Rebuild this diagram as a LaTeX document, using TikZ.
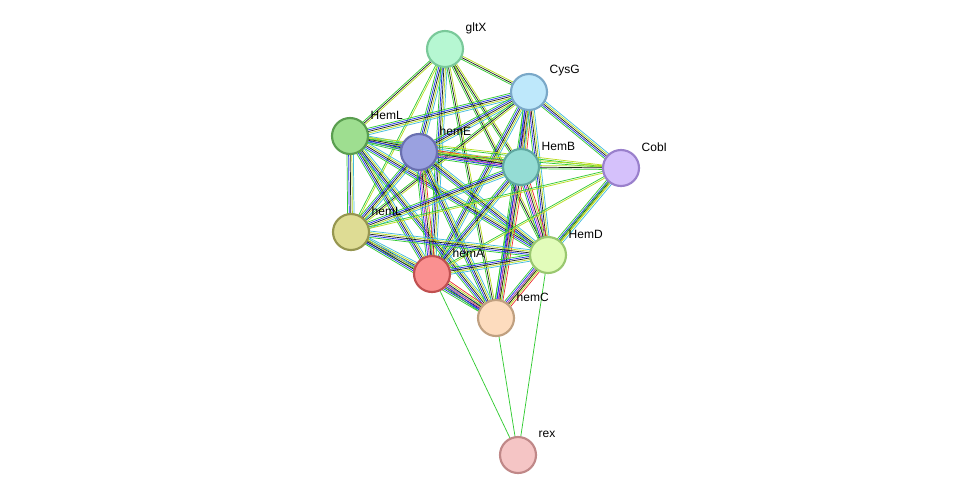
\documentclass[tikz,border=0pt]{standalone}
\usepackage{fontspec}
\setmainfont{Liberation Sans}
\usetikzlibrary{calc}
\definecolor{eg}{HTML}{33CC33}
\definecolor{eb}{HTML}{2233EE}
\definecolor{ek}{HTML}{222222}
\definecolor{ey}{HTML}{B8DC20}
\definecolor{ec}{HTML}{44BBDD}
\definecolor{em}{HTML}{CC33CC}
\definecolor{er}{HTML}{EE3333}
\definecolor{fgltX}{HTML}{B6F7D2}\definecolor{dgltX}{HTML}{7AC99A}
\definecolor{fCysG}{HTML}{BEE8FB}\definecolor{dCysG}{HTML}{7AA8C8}
\definecolor{fHemL}{HTML}{9EDE90}\definecolor{dHemL}{HTML}{5A9E50}
\definecolor{fhemE}{HTML}{9AA1E0}\definecolor{dhemE}{HTML}{6A70B0}
\definecolor{fHemB}{HTML}{94DCD4}\definecolor{dHemB}{HTML}{60A8A0}
\definecolor{fCobI}{HTML}{D5C1FB}\definecolor{dCobI}{HTML}{9A80CC}
\definecolor{fhemL}{HTML}{DEDC94}\definecolor{dhemL}{HTML}{969650}
\definecolor{fHemD}{HTML}{E2FCBA}\definecolor{dHemD}{HTML}{9AC870}
\definecolor{fhemA}{HTML}{FA9090}\definecolor{dhemA}{HTML}{C05050}
\definecolor{fhemC}{HTML}{FDDCBE}\definecolor{dhemC}{HTML}{C0A080}
\definecolor{frex}{HTML}{F5C5C5}\definecolor{drex}{HTML}{C08888}
\newcommand\edgeset[3]{%
  \foreach \c/\o in {#3}{%
    \draw[\c,line width=0.55pt] ($(#1)!\o pt!90:(#2)$) -- ($(#2)!\o pt!-90:(#1)$);}}
\newcommand\full[2]{\edgeset{#1}{#2}{eg/-2.4,eb/-1.2,ek/0,ey/1.2,ec/2.4}}
\newcommand\fuller[2]{\edgeset{#1}{#2}{eg/-3,eb/-1.8,em/-0.6,ek/0.6,ey/1.8,er/3}}
\newcommand\med[2]{\edgeset{#1}{#2}{eg/-1.2,ek/0,ey/1.2}}
\newcommand\lite[2]{\edgeset{#1}{#2}{eg/-0.6,ey/0.6}}
\newcommand\one[2]{\edgeset{#1}{#2}{eg/0}}
\begin{document}
\begin{tikzpicture}[x=0.75pt,y=-0.75pt,
  prot/.style={circle,minimum size=27pt,inner sep=0pt,line width=1.6pt},
  lab/.style={font=\fontsize{9}{10}\selectfont,anchor=west}]
\useasboundingbox[fill=white] (0,0) rectangle (975,501);
\coordinate (gltX) at (445,49);
\coordinate (CysG) at (529,92);
\coordinate (HemL) at (350,136);
\coordinate (hemE) at (419,152);
\coordinate (HemB) at (521,167);
\coordinate (CobI) at (621,168);
\coordinate (hemL) at (351,232);
\coordinate (HemD) at (548,255);
\coordinate (hemA) at (432,274);
\coordinate (hemC) at (496,318);
\coordinate (rex) at (518,455);
% edges
\med{gltX}{CysG}\med{gltX}{HemL}\full{gltX}{hemE}\med{gltX}{HemB}\lite{gltX}{hemL}
\med{gltX}{HemD}\full{gltX}{hemA}\med{gltX}{hemC}
\full{CysG}{HemL}\full{CysG}{hemE}\fuller{CysG}{HemB}\full{CysG}{CobI}\med{CysG}{hemL}
\full{CysG}{HemD}\full{CysG}{hemA}\full{CysG}{hemC}
\full{HemL}{hemE}\full{HemL}{HemB}\lite{HemL}{CobI}\full{HemL}{hemL}\full{HemL}{HemD}\full{HemL}{hemA}\full{HemL}{hemC}
\fuller{hemE}{HemB}\lite{hemE}{CobI}\full{hemE}{hemL}\full{hemE}{HemD}\fuller{hemE}{hemA}\full{hemE}{hemC}
\med{HemB}{CobI}\full{HemB}{hemL}\fuller{HemB}{HemD}\full{HemB}{hemA}\fuller{HemB}{hemC}
\lite{CobI}{hemL}\full{CobI}{HemD}\lite{CobI}{hemA}\lite{CobI}{hemC}
\full{hemL}{HemD}\full{hemL}{hemA}\full{hemL}{hemC}
\full{HemD}{hemA}\fuller{HemD}{hemC}
\fuller{hemA}{hemC}
\one{rex}{hemA}\one{rex}{hemC}\one{rex}{HemD}
% nodes and labels
\foreach \n in {gltX,CysG,HemL,hemE,HemB,CobI,hemL,HemD,hemA,hemC,rex}{
  \node[prot,fill=f\n,draw=d\n] (n\n) at (\n) {};
  \node[lab] (l\n) at ($(\n)+(16,-21)$) {\n};}
\end{tikzpicture}
\end{document}
